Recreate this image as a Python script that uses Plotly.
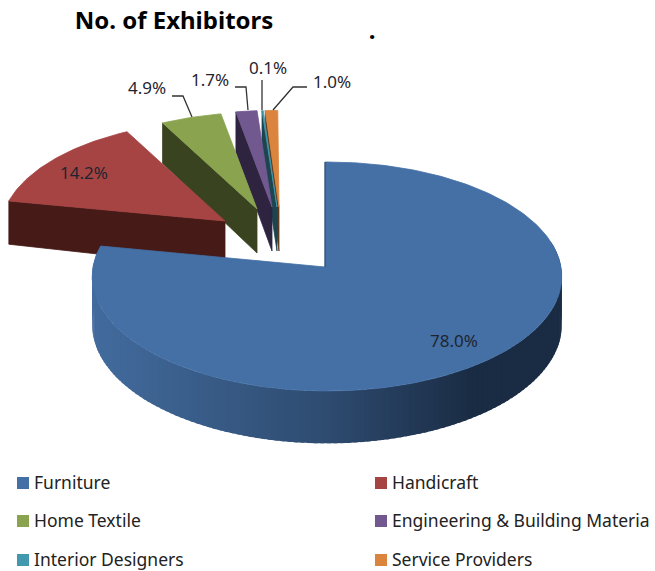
import math
import plotly.graph_objects as go

categories = ["Furniture", "Handicraft", "Home Textile", "Engineering & Building Materia",
              "Interior Designers", "Service Providers"]
shares = [78.0, 14.2, 4.9, 1.7, 0.1, 1.0]
share_labels = ["78.0%", "14.2%", "4.9%", "1.7%", "0.1%", "1.0%"]
top_colors = ["#4470A6", "#A54442", "#89A34E", "#71588F", "#4198AF", "#DB843D"]
wall_colors = ["#2C486B", "#451A17", "#3A431F", "#2E2440", "#1C4550", "#5F3A1A"]

# pie projection (pixel space of the 655x571 page)
W, H = 655, 571
CX, CY, RX, RY, K = 325, 267, 234, 113.7, 0.083
DEPTH = 48
# explosion of each slice: offset of its apex, and the radius scale that comes with it
offsets = [(2, 0), (-100, -46), (-68, -58), (-53, -60), (-48, -60), (-46, -60)]
scales = [1.0, 0.955, 0.92, 0.92, 0.92, 0.92]
wall_depths = [DEPTH, 47, 44, 44, 44, 44]


def project(theta_deg, i):
    t = math.radians(theta_deg)
    X, Y = math.sin(t), math.cos(t)
    d = 1 + K * Y
    dx, dy = offsets[i]
    s = scales[i]
    return CX + dx + RX * s * X / d, CY + dy - RY * s * Y / d


def arc(a0, a1, i, step=1.0):
    n = max(2, int(abs(a1 - a0) / step) + 1)
    return [project(a0 + (a1 - a0) * j / (n - 1), i) for j in range(n)]


def poly(fig, pts, color, width=0.8):
    xs = [p[0] for p in pts] + [pts[0][0]]
    ys = [p[1] for p in pts] + [pts[0][1]]
    fig.add_trace(go.Scatter(x=xs, y=ys, mode="lines", fill="toself", fillcolor=color,
                             line=dict(color=color, width=width),
                             hoverinfo="skip", showlegend=False))


def mix(c0, c1, f):
    return "rgb(%d,%d,%d)" % tuple(round(a + (b - a) * f) for a, b in zip(c0, c1))


fig = go.Figure()

# angular extent of each slice, clockwise from twelve o'clock
spans = []
acc = 0.0
for v in shares:
    spans.append((acc * 3.6, (acc + v) * 3.6))
    acc += v

# exploded slices, farthest first
for i in [5, 4, 3, 2, 1]:
    a0, a1 = spans[i]
    apex = (CX + offsets[i][0], CY + offsets[i][1])
    outer = project(a0, i)
    d = wall_depths[i]
    poly(fig, [outer, apex, (apex[0], apex[1] + d), (outer[0], outer[1] + d * 0.92)], wall_colors[i])
    poly(fig, [apex] + arc(a0, a1, i), top_colors[i])

# main slice: side wall as a left-to-right gradient, then the top face
a0, a1 = spans[0]
left_c, mid_c, right_c = (66, 107, 157), (46, 75, 112), (26, 44, 68)
STEP = 1.5
steps = [78 + STEP * j for j in range(136)]
for th0, th1 in zip(steps[:-1], steps[1:]):
    # each band reaches back under its neighbour so no seam shows
    back = th0 - STEP * 0.6
    p0, p1 = project(back, 0), project(th1, 0)
    y0 = math.cos(math.radians(back))
    y1 = math.cos(math.radians(th1))
    d0, d1 = DEPTH / (1 + K * y0), DEPTH / (1 + K * y1)
    xm = (p0[0] + p1[0]) / 2
    if xm >= 470:
        col = mix(right_c, right_c, 0)
    elif xm >= 325:
        col = mix(mid_c, right_c, (xm - 325) / 145)
    else:
        col = mix(left_c, mid_c, max(0, (xm - 95) / 230))
    poly(fig, [p0, p1, (p1[0], p1[1] + d1), (p0[0], p0[1] + d0)], col, width=0)
top_pt = project(0, 0)
poly(fig, [(CX, CY), (CX, top_pt[1])] + arc(a0, a1, 0), top_colors[0])
fig.add_trace(go.Scatter(x=[CX, CX], y=[CY, top_pt[1]], mode="lines",
                         line=dict(color="#2C486B", width=1), hoverinfo="skip", showlegend=False))

# leader lines
leaders = [
    ([172, 183, 192], [96, 96, 117]),
    ([235, 246, 248], [87, 87, 110]),
    ([262, 262], [80, 110]),
    ([307, 293, 273], [87, 87, 110]),
]
for lx, ly in leaders:
    fig.add_trace(go.Scatter(x=lx, y=ly, mode="lines", line=dict(color="#333333", width=1.3),
                             hoverinfo="skip", showlegend=False))

FONT = "Noto Sans"
label_pos = [(454, 343), (84, 175), (147, 90), (210, 82), (268, 70), (332, 84)]
fig.add_trace(go.Scatter(x=[p[0] for p in label_pos], y=[p[1] for p in label_pos], mode="text",
                         text=share_labels, textposition="middle center",
                         textfont=dict(family=FONT, size=17, color="#1f2530"),
                         hoverinfo="skip", showlegend=False))

# stray mark in the source picture
fig.add_trace(go.Scatter(x=[372], y=[33], mode="text", text=["."], textposition="middle center",
                         textfont=dict(family=FONT, size=24, color="#000000", weight="bold"),
                         hoverinfo="skip", showlegend=False))

# legend
legend_x = [(23, 34), (381, 392)]
legend_y = [483, 521, 560]
for idx, cat in enumerate(categories):
    sq_x, tx_x = legend_x[idx % 2]
    y = legend_y[idx // 2]
    fig.add_trace(go.Scatter(x=[sq_x], y=[y], mode="markers",
                             marker=dict(symbol="square", size=12, color=top_colors[idx]),
                             hoverinfo="skip", showlegend=False))
    fig.add_trace(go.Scatter(x=[tx_x], y=[y + 2], mode="text", text=[cat], textposition="middle right",
                             textfont=dict(family=FONT, size=17.5, color="#222222"),
                             hoverinfo="skip", showlegend=False))

fig.update_layout(
    width=W, height=H, margin=dict(l=0, r=0, t=0, b=0),
    paper_bgcolor="white", plot_bgcolor="white", showlegend=False,
    title=dict(text="<b>No. of Exhibitors</b>", x=174 / W, y=1 - 21 / H, xanchor="center", yanchor="middle",
               font=dict(family=FONT, size=24, color="#000000")),
    xaxis=dict(range=[0, W], visible=False, fixedrange=True),
    yaxis=dict(range=[H, 0], visible=False, fixedrange=True),
)
fig.write_html("out.html", config={"displayModeBar": False},
               post_script="document.body.style.margin='0';document.documentElement.style.overflow='hidden';")
